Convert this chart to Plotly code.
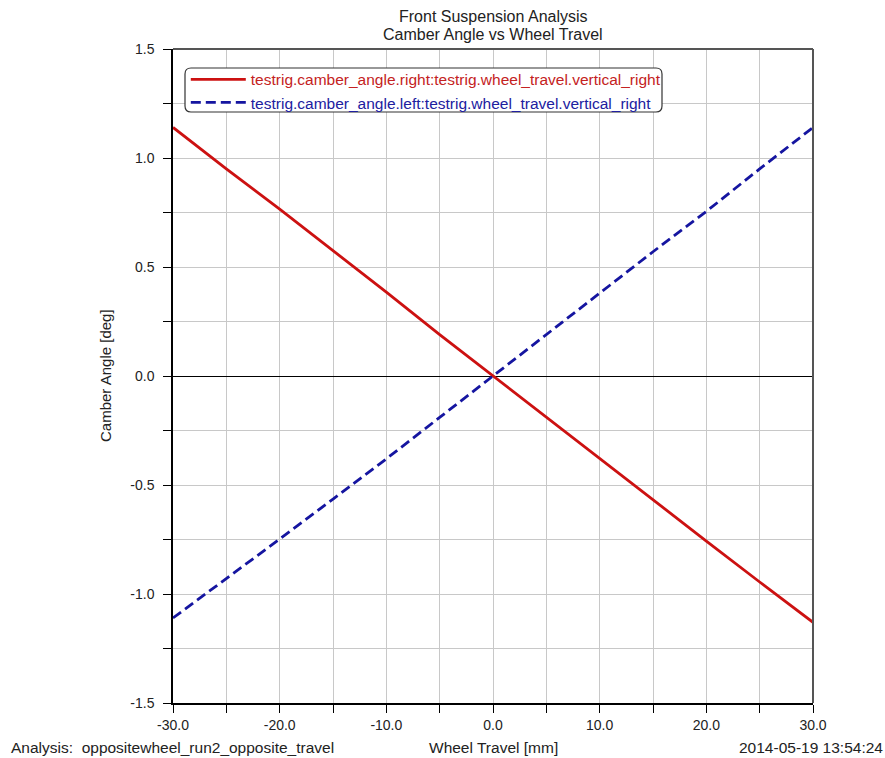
import plotly.graph_objects as go

travel = [-30, -25, -20, -15, -10, -5, 0, 5, 10, 15, 20, 25, 30]
camber_right = [1.14, 0.95, 0.765, 0.575, 0.385, 0.19, 0.0, -0.19, -0.38, -0.57, -0.757, -0.945, -1.13]
camber_left = [-1.11, -0.93, -0.748, -0.565, -0.38, -0.19, 0.0, 0.19, 0.38, 0.57, 0.755, 0.95, 1.14]

name_right = "testrig.camber_angle.right:testrig.wheel_travel.vertical_right"
name_left = "testrig.camber_angle.left:testrig.wheel_travel.vertical_right"

x_ticks = [-30, -20, -10, 0, 10, 20, 30]
x_labels = ["-30.0", "-20.0", "-10.0", "0.0", "10.0", "20.0", "30.0"]
y_ticks = [-1.5, -1.0, -0.5, 0.0, 0.5, 1.0, 1.5]
y_labels = ["-1.5", "-1.0", "-0.5", "0.0", "0.5", "1.0", "1.5"]

title_lines = ["Front Suspension Analysis", "Camber Angle vs Wheel Travel"]
x_title = "Wheel Travel [mm]"
y_title = "Camber Angle [deg]"
analysis_text = "Analysis:  oppositewheel_run2_opposite_travel"
date_text = "2014-05-19 13:54:24"

RED = "#cc1111"
BLUE = "#1515a0"
RED_TXT = "#c42222"
BLUE_TXT = "#2020a0"
FONT = "Liberation Sans, Arial, sans-serif"
TXT = "#222222"

fig = go.Figure()
fig.add_trace(go.Scatter(
    x=travel, y=camber_right, mode="lines",
    name=f"<span style='color:{RED_TXT}'>{name_right}</span>",
    line=dict(color=RED, width=2.8)))
fig.add_trace(go.Scatter(
    x=travel, y=camber_left, mode="lines",
    name=f"<span style='color:{BLUE_TXT}'>{name_left}</span>",
    line=dict(color=BLUE, width=2.8, dash="10px,5px")))

fig.update_layout(
    width=885, height=758,
    margin=dict(l=173, r=72, t=49, b=55),
    paper_bgcolor="white", plot_bgcolor="white",
    font=dict(family=FONT, size=14, color=TXT),
    showlegend=True,
    legend=dict(x=0.02, y=0.979, xanchor="left", yanchor="top",
                bgcolor="rgba(0,0,0,0)", borderwidth=0,
                font=dict(size=15.5), itemwidth=55,
                tracegroupgap=0),
    xaxis=dict(range=[-30, 30], tickvals=x_ticks, ticktext=x_labels,
               tickfont=dict(size=14),
               showgrid=True, gridcolor="#c8c8c8", gridwidth=1,
               showline=True, linecolor="black", linewidth=1.5,
               ticks="outside", ticklen=8, tickcolor="black",
               zeroline=False,
               minor=dict(dtick=5, tick0=0, showgrid=True, gridcolor="#c8c8c8",
                          ticks="outside", ticklen=8, tickcolor="black")),
    yaxis=dict(range=[-1.5, 1.5], tickvals=y_ticks, ticktext=y_labels,
               tickfont=dict(size=14), ticklabelstandoff=6,
               showgrid=True, gridcolor="#c8c8c8", gridwidth=1,
               showline=True, linecolor="black", linewidth=1.5,
               ticks="outside", ticklen=8, tickcolor="black",
               zeroline=True, zerolinecolor="black", zerolinewidth=1,
               minor=dict(dtick=0.25, tick0=0, showgrid=True, gridcolor="#c8c8c8",
                          ticks="outside", ticklen=8, tickcolor="black")),
)

# top and right frame lines
fig.add_shape(type="line", xref="paper", yref="paper", x0=0, x1=1, y0=1, y1=1,
              line=dict(color="#555555", width=2), layer="above")
fig.add_shape(type="line", xref="paper", yref="paper", x0=1, x1=1, y0=0, y1=1,
              line=dict(color="#555555", width=2), layer="above")

# rounded legend box
x0, x1 = 12 / 640, 489 / 640
y0, y1 = (703 - 112) / 654, (703 - 68) / 654
rx, ry = 6 / 640, 6 / 654
path = (f"M {x0+rx},{y0} L {x1-rx},{y0} Q {x1},{y0} {x1},{y0+ry} "
        f"L {x1},{y1-ry} Q {x1},{y1} {x1-rx},{y1} L {x0+rx},{y1} "
        f"Q {x0},{y1} {x0},{y1-ry} L {x0},{y0+ry} Q {x0},{y0} {x0+rx},{y0} Z")
fig.add_shape(type="path", xref="paper", yref="paper", path=path,
              fillcolor="white", line=dict(color="#333333", width=1.2), layer="above")

# title (two lines)
fig.add_annotation(text=title_lines[0], xref="paper", yref="paper",
                   x=0.5, y=1, yshift=33, xanchor="center", yanchor="middle",
                   showarrow=False, font=dict(size=16, color=TXT))
fig.add_annotation(text=title_lines[1], xref="paper", yref="paper",
                   x=0.5, y=1, yshift=15, xanchor="center", yanchor="middle",
                   showarrow=False, font=dict(size=16, color=TXT))
# axis titles / footer
fig.add_annotation(text=x_title, xref="paper", yref="paper", x=0.5, y=0,
                   yshift=-44, xanchor="center", yanchor="middle", showarrow=False,
                   font=dict(size=15.5))
fig.add_annotation(text=y_title, xref="paper", yref="paper", x=0, y=0.5,
                   xshift=-68, xanchor="center", yanchor="middle", textangle=-90,
                   showarrow=False, font=dict(size=15))
fig.add_annotation(text=analysis_text, xref="paper", yref="paper", x=0, y=0,
                   xshift=-164, yshift=-44, xanchor="left", yanchor="middle",
                   showarrow=False, font=dict(size=15.5))
fig.add_annotation(text=date_text, xref="paper", yref="paper", x=1, y=0,
                   xshift=72, yshift=-44, xanchor="right", yanchor="middle",
                   showarrow=False, font=dict(size=15.5))

fig.write_html("out.html")
